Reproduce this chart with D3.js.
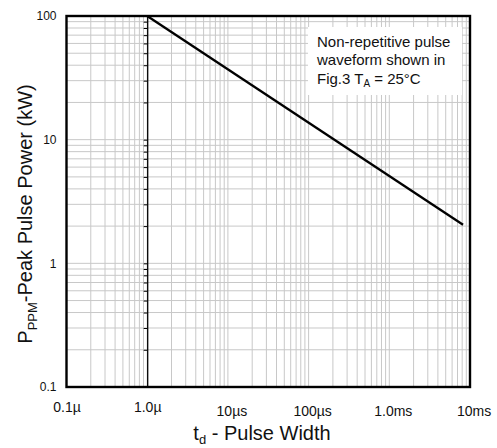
<!DOCTYPE html>
<html>
<head>
<meta charset="utf-8">
<script src="https://cdn.jsdelivr.net/npm/d3@7/dist/d3.min.js"></script>
<style>
  html, body { margin: 0; padding: 0; background: #fff; }
  svg { display: block; font-family: "Liberation Sans", Arial, Helvetica, sans-serif; }
</style>
</head>
<body>
<svg id="chart" width="497" height="448"></svg>
<script>
// ---- Data ----
const pulseWidth = [1e-6, 8.2e-3];          // seconds
const peakPower  = [100, 2.05];             // kW
const xTickValues = [1e-7, 1e-6, 1e-5, 1e-4, 1e-3, 1e-2];
const xTickLabels = ["0.1\u00b5", "1.0\u00b5", "10\u00b5s", "100\u00b5s", "1.0ms", "10ms"];
const yTickValues = [0.1, 1, 10, 100];
const yTickLabels = ["0.1", "1", "10", "100"];
const noteLines = ["Non-repetitive pulse", "waveform shown in", "Fig.3 T|A| = 25\u00b0C"];

// ---- Layout ----
const svg = d3.select("#chart");
const pL = 66.5, pR = 470, pT = 16, pB = 387;
const x = d3.scaleLog().domain([1e-7, 1e-2]).range([pL, pR]);
const y = d3.scaleLog().domain([0.1, 100]).range([pB, pT]);

// minor + major grid values
const gridX = [], gridY = [];
for (let e = -7; e < -2; e++) for (let m = 1; m <= 9; m++) gridX.push(m * Math.pow(10, e));
for (let e = -1; e < 2; e++) for (let m = 1; m <= 9; m++) gridY.push(m * Math.pow(10, e));

const g = svg.append("g");
g.selectAll("line.gx").data(gridX).enter().append("line")
  .attr("x1", d => x(d)).attr("x2", d => x(d))
  .attr("y1", pT).attr("y2", pB)
  .attr("stroke", "#c8c8c8").attr("stroke-width", 1);
g.selectAll("line.gy").data(gridY).enter().append("line")
  .attr("x1", pL).attr("x2", pR)
  .attr("y1", d => y(d)).attr("y2", d => y(d))
  .attr("stroke", "#c8c8c8").attr("stroke-width", 1);

// note box (white background hides grid)
svg.append("rect").attr("x", 308).attr("y", 27).attr("width", 154).attr("height", 68).attr("fill", "#fff");
noteLines.forEach((ln, i) => {
  const parts = ln.split("|");
  const t = svg.append("text").attr("x", 317).attr("y", 46.5 + i * 18.5)
    .attr("font-size", 15).attr("fill", "#111");
  t.append("tspan").text(parts[0]);
  if (parts.length > 1) {
    t.append("tspan").attr("font-size", 10).attr("dy", 3).text(parts[1]);
    t.append("tspan").attr("dy", -3).text(parts[2]);
  }
});

// inner axis at 1 µs (vertical line with log ticks)
const innerAxis = d3.axisLeft(y).tickSize(3.5).tickFormat("").tickSizeOuter(0);
const ia = svg.append("g").attr("transform", `translate(${x(1e-6)},0)`).call(innerAxis);
ia.select(".domain").attr("stroke", "#000").attr("stroke-width", 1.3);
ia.selectAll(".tick line").attr("stroke", "#000").attr("stroke-width", 1);

// data line
const line = d3.line().x(d => x(d[0])).y(d => y(d[1]));
svg.append("path").datum(pulseWidth.map((t, i) => [t, peakPower[i]]))
  .attr("d", line).attr("fill", "none").attr("stroke", "#000").attr("stroke-width", 2.3);

// border
svg.append("rect").attr("x", pL).attr("y", pT).attr("width", pR - pL).attr("height", pB - pT)
  .attr("fill", "none").attr("stroke", "#000").attr("stroke-width", 2.4);

// x tick labels
const xAxis = d3.axisBottom(x).tickValues(xTickValues)
  .tickFormat((d, i) => xTickLabels[i]).tickSize(0).tickPadding(0);
const xa = svg.append("g").attr("transform", `translate(0,${pB})`).call(xAxis);
xa.select(".domain").remove();
xa.selectAll(".tick text")
  .attr("font-size", 14).attr("fill", "#111").attr("font-family", null)
  .attr("dy", null)
  .attr("y", (d, i) => i < 2 ? 25 : 28.5)
  .attr("dx", (d, i) => i < 2 ? 0 : 3.5);

// y tick labels
const yAxis = d3.axisLeft(y).tickValues(yTickValues)
  .tickFormat((d, i) => yTickLabels[i]).tickSize(0).tickPadding(10);
const ya = svg.append("g").attr("transform", `translate(${pL},0)`).call(yAxis);
ya.select(".domain").remove();
ya.selectAll(".tick text").attr("font-size", 12).attr("fill", "#111").attr("font-family", null);

// x title
const xt = svg.append("text").attr("x", 262).attr("y", 440).attr("text-anchor", "middle")
  .attr("font-size", 20).attr("fill", "#111");
xt.append("tspan").text("t");
xt.append("tspan").attr("font-size", 13).attr("dy", 4).text("d");
xt.append("tspan").attr("dy", -4).text(" - Pulse Width");

// y title
const yt = svg.append("text").attr("transform", "translate(32,214) rotate(-90)")
  .attr("text-anchor", "middle").attr("font-size", 20).attr("fill", "#111");
yt.append("tspan").text("P");
yt.append("tspan").attr("font-size", 13).attr("dy", 5).text("PPM");
yt.append("tspan").attr("dy", -5).text("-Peak Pulse Power (kW)");
</script>
</body>
</html>
